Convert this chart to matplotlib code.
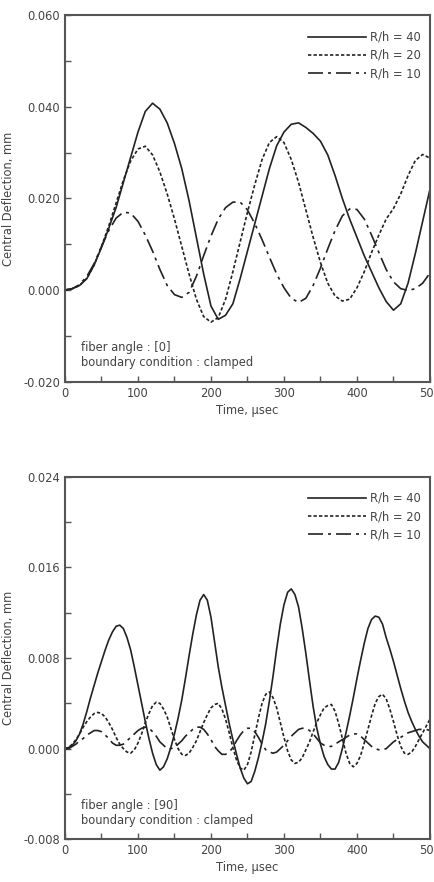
import matplotlib
matplotlib.use("Agg")
import matplotlib.pyplot as plt
from matplotlib.ticker import MultipleLocator, FormatStrFormatter

# sample times (usec)
time_top = list(range(0, 501, 10))
time_bot = list(range(0, 501, 5))

# fiber angle [0] -- central deflection (mm)
top_rh40 = [0.0, 0.0003, 0.0010, 0.0025, 0.0055, 0.0093, 0.0135, 0.0180, 0.0235, 0.0290,
            0.0345, 0.0390, 0.0408, 0.0395, 0.0365, 0.0320, 0.0265, 0.0195, 0.0115, 0.0035,
            -0.0035, -0.0064, -0.0055, -0.0030, 0.0025, 0.0085, 0.0145, 0.0205, 0.0265, 0.0315,
            0.0345, 0.0362, 0.0365, 0.0355, 0.0342, 0.0325, 0.0295, 0.0250, 0.0200, 0.0155,
            0.0115, 0.0075, 0.0040, 0.0005, -0.0025, -0.0044, -0.0030, 0.0015, 0.0080, 0.0150,
            0.0220]
top_rh20 = [0.0, 0.0003, 0.0010, 0.0026, 0.0055, 0.0095, 0.0140, 0.0190, 0.0240, 0.0282,
            0.0308, 0.0314, 0.0295, 0.0258, 0.0210, 0.0155, 0.0095, 0.0035, -0.0020, -0.0058,
            -0.0070, -0.0060, -0.0020, 0.0040, 0.0105, 0.0170, 0.0230, 0.0285, 0.0322, 0.0335,
            0.0322, 0.0285, 0.0235, 0.0175, 0.0115, 0.0060, 0.0015, -0.0013, -0.0024, -0.0020,
            0.0005, 0.0040, 0.0082, 0.0120, 0.0155, 0.0178, 0.0210, 0.0250, 0.0283, 0.0296,
            0.0288]
top_rh10 = [0.0, 0.0003, 0.0012, 0.0030, 0.0058, 0.0095, 0.0130, 0.0157, 0.0170, 0.0168,
            0.0150, 0.0120, 0.0085, 0.0045, 0.0010, -0.0010, -0.0016, -0.0005, 0.0030, 0.0075,
            0.0118, 0.0155, 0.0180, 0.0192, 0.0192, 0.0175, 0.0145, 0.0110, 0.0072, 0.0035,
            0.0005, -0.0018, -0.0027, -0.0018, 0.0010, 0.0048, 0.0090, 0.0130, 0.0162, 0.0177,
            0.0176, 0.0155, 0.0120, 0.0082, 0.0045, 0.0018, 0.0003, -0.0001, 0.0003, 0.0015,
            0.0037]

# fiber angle [90] -- central deflection (mm)
bot_rh40 = [0.0, 0.0001, 0.0003, 0.0007, 0.0013, 0.0022, 0.0033, 0.0045, 0.0056, 0.0067,
            0.0077, 0.0087, 0.0096, 0.0103, 0.0108, 0.0109, 0.0106, 0.0098, 0.0087, 0.0072,
            0.0056, 0.0040, 0.0024, 0.0009, -0.0004, -0.0014, -0.0019, -0.0016, -0.0009, 0.0001,
            0.0013, 0.0027, 0.0043, 0.0062, 0.0082, 0.0101, 0.0118, 0.0131, 0.0136, 0.0131,
            0.0116, 0.0094, 0.0072, 0.0054, 0.0038, 0.0022, 0.0008, -0.0005, -0.0017, -0.0026,
            -0.0031, -0.0029, -0.0020, -0.0008, 0.0006, 0.0022, 0.0042, 0.0064, 0.0088, 0.0110,
            0.0127, 0.0138, 0.0141, 0.0136, 0.0125, 0.0106, 0.0084, 0.0060, 0.0037, 0.0018,
            0.0004, -0.0007, -0.0014, -0.0018, -0.0018, -0.0012, 0.0000, 0.0014, 0.0029, 0.0045,
            0.0062, 0.0078, 0.0093, 0.0106, 0.0114, 0.0117, 0.0116, 0.0110, 0.0098, 0.0088,
            0.0077, 0.0065, 0.0053, 0.0042, 0.0032, 0.0024, 0.0017, 0.0011, 0.0006, 0.0003,
            0.0000]
bot_rh20 = [0.0, 0.0001, 0.0004, 0.0008, 0.0013, 0.0019, 0.0024, 0.0028, 0.0031, 0.0032,
            0.0031, 0.0028, 0.0023, 0.0017, 0.0010, 0.0004, 0.0000, -0.0003, -0.0004, -0.0001,
            0.0005, 0.0013, 0.0023, 0.0031, 0.0038, 0.0041, 0.0040, 0.0035, 0.0028, 0.0018,
            0.0008, 0.0000, -0.0005, -0.0006, -0.0004, 0.0001, 0.0007, 0.0015, 0.0023, 0.0030,
            0.0036, 0.0039, 0.0040, 0.0035, 0.0026, 0.0014, 0.0001, -0.0010, -0.0017, -0.0019,
            -0.0014, -0.0003, 0.0012, 0.0027, 0.0040, 0.0048, 0.0050, 0.0045, 0.0036, 0.0023,
            0.0010, -0.0002, -0.0010, -0.0013, -0.0012, -0.0008, -0.0001, 0.0006, 0.0015, 0.0023,
            0.0030, 0.0036, 0.0038, 0.0039, 0.0033, 0.0022, 0.0009, -0.0004, -0.0013, -0.0016,
            -0.0013, -0.0006, 0.0005, 0.0017, 0.0029, 0.0040, 0.0046, 0.0048, 0.0044, 0.0035,
            0.0024, 0.0012, 0.0002, -0.0004, -0.0005, -0.0003, 0.0002, 0.0008, 0.0014, 0.0020,
            0.0026]
bot_rh10 = [0.0, 0.0000, 0.0002, 0.0004, 0.0007, 0.0009, 0.0012, 0.0014, 0.0016, 0.0016,
            0.0015, 0.0012, 0.0009, 0.0005, 0.0003, 0.0003, 0.0004, 0.0007, 0.0010, 0.0013,
            0.0016, 0.0018, 0.0019, 0.0018, 0.0015, 0.0011, 0.0006, 0.0003, 0.0000, 0.0000,
            0.0001, 0.0004, 0.0007, 0.0011, 0.0014, 0.0017, 0.0019, 0.0019, 0.0017, 0.0013,
            0.0008, 0.0002, -0.0002, -0.0005, -0.0005, -0.0003, 0.0001, 0.0007, 0.0012, 0.0016,
            0.0018, 0.0018, 0.0015, 0.0010, 0.0004, -0.0001, -0.0003, -0.0004, -0.0003, 0.0000,
            0.0003, 0.0007, 0.0011, 0.0014, 0.0017, 0.0018, 0.0018, 0.0016, 0.0013, 0.0009,
            0.0005, 0.0003, 0.0002, 0.0002, 0.0004, 0.0006, 0.0008, 0.0010, 0.0012, 0.0013,
            0.0013, 0.0011, 0.0008, 0.0005, 0.0002, 0.0000, -0.0001, -0.0001, 0.0000, 0.0003,
            0.0006, 0.0008, 0.0010, 0.0012, 0.0014, 0.0015, 0.0016, 0.0017, 0.0017, 0.0017,
            0.0016]

labels = ["R/h = 40", "R/h = 20", "R/h = 10"]
ink = "#222222"
txt = "#444444"
styles = ["-", (0, (2.0, 1.3)), (0, (9, 3, 1.8, 3))]
fs = 8.3

plt.rcParams["font.family"] = "DejaVu Sans"
plt.rcParams["font.size"] = fs

fig = plt.figure(figsize=(4.35, 8.82), dpi=100)


def panel(rect, t, series, ylim, ymajor, angle):
    ax = fig.add_axes(rect)
    for ys, ls, lab in zip(series, styles, labels):
        ax.plot(t, ys, color=ink, lw=1.2, linestyle=ls, label=lab)
    ax.set_xlim(0, 500)
    ax.set_ylim(*ylim)
    ax.xaxis.set_major_locator(MultipleLocator(100))
    ax.xaxis.set_minor_locator(MultipleLocator(50))
    ax.yaxis.set_major_locator(MultipleLocator(ymajor))
    ax.yaxis.set_minor_locator(MultipleLocator(ymajor / 2))
    ax.yaxis.set_major_formatter(FormatStrFormatter("%.3f"))
    ax.tick_params(which="both", direction="in", length=4.5, width=1.0,
                   colors="#555555", labelcolor=txt, labelsize=fs, pad=3.5)
    for s in ax.spines.values():
        s.set_color("#555555")
        s.set_linewidth(1.5)
    ax.set_xlabel("Time, \u03bcsec", color=txt, fontsize=fs)
    ax.set_ylabel("Central Deflection, mm", color=txt, fontsize=fs, va="center")
    ax.xaxis.set_label_coords(0.5, -0.06)
    ax.yaxis.set_label_coords(-0.155, 0.5)
    leg = ax.legend(loc="upper right", bbox_to_anchor=(0.975, 0.958), frameon=False,
                    handlelength=5.0, handletextpad=0.35, labelspacing=0.45,
                    borderaxespad=0, borderpad=0, fontsize=fs)
    for tx in leg.get_texts():
        tx.set_color(txt)
    ax.text(0.045, 0.092, "fiber angle : [%s]" % angle, transform=ax.transAxes,
            va="center", ha="left", color=txt, fontsize=fs)
    ax.text(0.045, 0.053, "boundary condition : clamped", transform=ax.transAxes,
            va="center", ha="left", color=txt, fontsize=fs)
    return ax


panel([0.1494, 0.5673, 0.839, 0.4154], time_top, [top_rh40, top_rh20, top_rh10],
      (-0.02, 0.06), 0.02, "0")
panel([0.1494, 0.0484, 0.839, 0.4111], time_bot, [bot_rh40, bot_rh20, bot_rh10],
      (-0.008, 0.024), 0.008, "90")

fig.savefig("out.png", dpi=100, facecolor="white")
